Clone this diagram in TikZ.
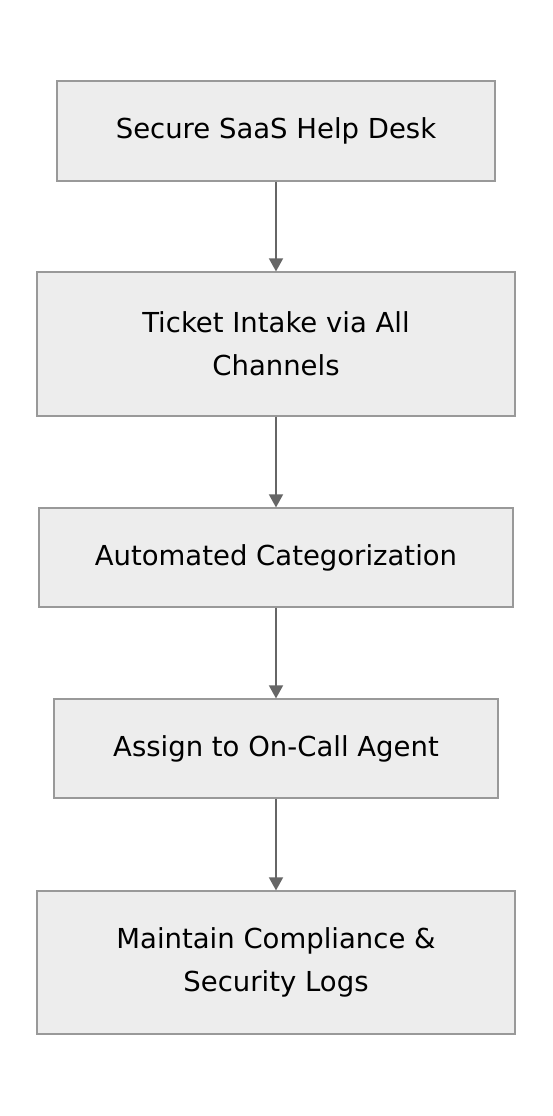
\documentclass[tikz,border=0pt]{standalone}
\usepackage{fontspec}
\setmainfont{DejaVu Sans}
\usetikzlibrary{arrows.meta}

\begin{document}
\begin{tikzpicture}[x=1pt,y=-1pt,
  every node/.style={draw=black!40,fill=black!7,line width=1.2pt,
    align=center,font=\fontsize{27.5}{43}\selectfont,inner sep=0pt},
  flow/.style={draw=black!60,line width=1.6pt,
    -{Triangle[width=14pt,length=13pt]}}]
  \useasboundingbox (0,0) rectangle (552,1116);

  % Steps
  \node[minimum width=438pt,minimum height=100pt] (s1) at (276,131) {Secure SaaS Help Desk};
  \node[minimum width=478pt,minimum height=144pt] (s2) at (276,344) {Ticket Intake via All\\Channels};
  \node[minimum width=474pt,minimum height=99pt] (s3) at (276,557.5) {Automated Categorization};
  \node[minimum width=444pt,minimum height=99pt] (s4) at (276,748.5) {Assign to On-Call Agent};
  \node[minimum width=478pt,minimum height=143pt] (s5) at (276,962.5) {Maintain Compliance \&\\Security Logs};

  % Arrows
  \foreach \a/\b in {s1/s2, s2/s3, s3/s4, s4/s5} {
    \draw[flow] (\a) -- (\b);
  }
\end{tikzpicture}
\end{document}
